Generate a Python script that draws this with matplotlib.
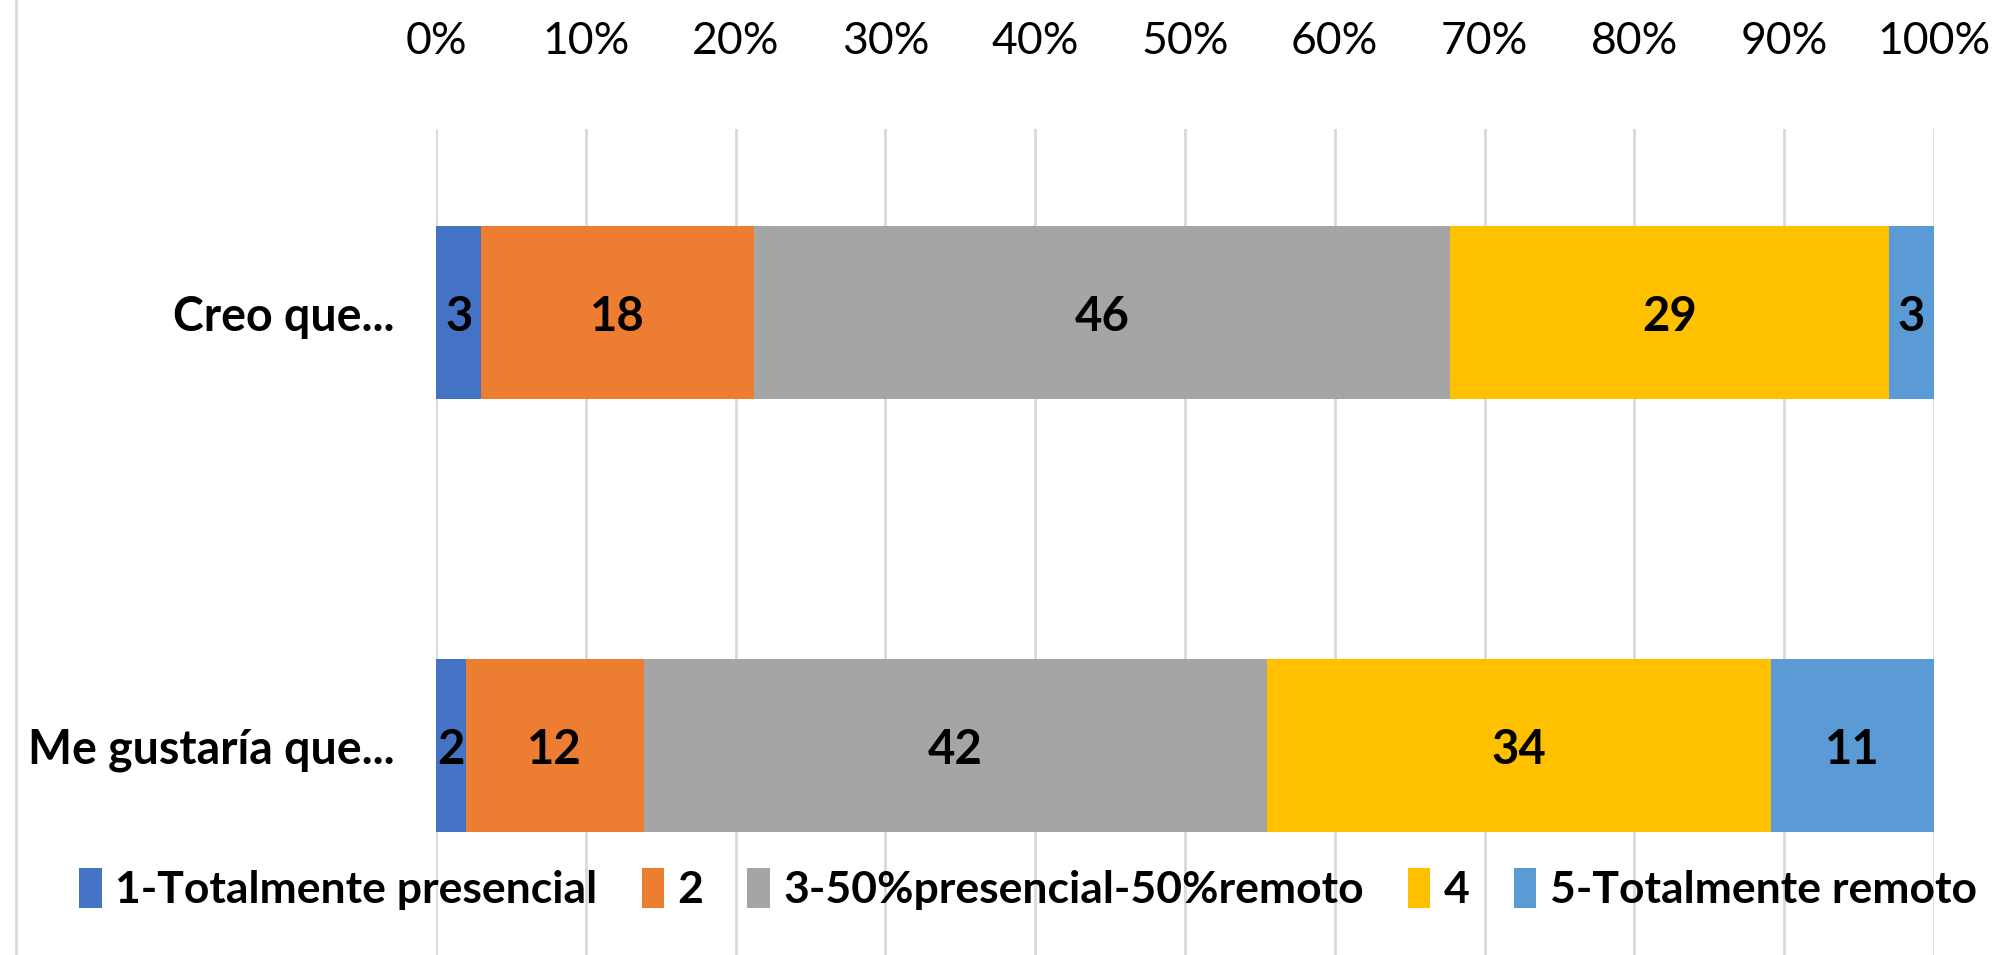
import numpy as np
import matplotlib.pyplot as plt
from matplotlib.lines import Line2D
from matplotlib.ticker import PercentFormatter

plt.rcParams['font.family'] = ['Lato', 'DejaVu Sans']

categories = ['Creo que...', 'Me gustaría que...']
series_names = ['1-Totalmente presencial', '2', '3-50%presencial-50%remoto', '4', '5-Totalmente remoto']
colors = ['#4472C4', '#ED7D31', '#A5A5A5', '#FFC000', '#5B9BD5']

# counts per answer, one list per series (Creo que..., Me gustaría que...)
s1 = [3, 2]
s2 = [18, 12]
s3 = [46, 42]
s4 = [29, 34]
s5 = [3, 11]
series = [s1, s2, s3, s4, s5]

values = np.array(series, dtype=float)
totals = values.sum(axis=0)
shares = values / totals * 100

fig = plt.figure(figsize=(20, 9.55), dpi=100)
ax = fig.add_axes([0.218, 0.0, 0.749, 0.865])

y = np.arange(len(categories))
left = np.zeros(len(categories))
bars = []
for name, share, col, raw in zip(series_names, shares, colors, values):
    b = ax.barh(y, share, left=left, height=0.4, color=col, label=name, zorder=2)
    for yi, l, w, v in zip(y, left, share, raw):
        ax.text(l + w / 2, yi + 0.01, f'{int(v)}', ha='center', va='center',
                fontsize=34, fontweight='bold', color='black', zorder=3)
    left += share
    bars.append(b)

ax.set_xlim(0, 100)
ax.set_ylim(1.484, -0.425)
ax.set_xticks(np.arange(0, 101, 10))
ax.xaxis.set_major_formatter(PercentFormatter(decimals=0))
ax.xaxis.tick_top()
ax.tick_params(axis='x', length=0, pad=48, labelsize=32)
ax.set_yticks(y)
ax.set_yticklabels(categories, fontsize=33.5, fontweight='bold')
ax.tick_params(axis='y', length=0, pad=30)
ax.grid(axis='x', color='#d9d9d9', linewidth=2, zorder=0)
for sp in ax.spines.values():
    sp.set_visible(False)

# chart area border on the left
fig.add_artist(Line2D([0.008, 0.008], [0, 1], transform=fig.transFigure,
                      color='#d9d9d9', linewidth=2))

fig.legend(handles=bars, loc='center', bbox_to_anchor=(0.514, 0.069), ncol=5,
           frameon=False, prop={'size': 32, 'weight': 'bold'},
           handlelength=0.5, handleheight=1.0, handletextpad=0.3, columnspacing=1.0)

fig.savefig('out.png', dpi=100)
